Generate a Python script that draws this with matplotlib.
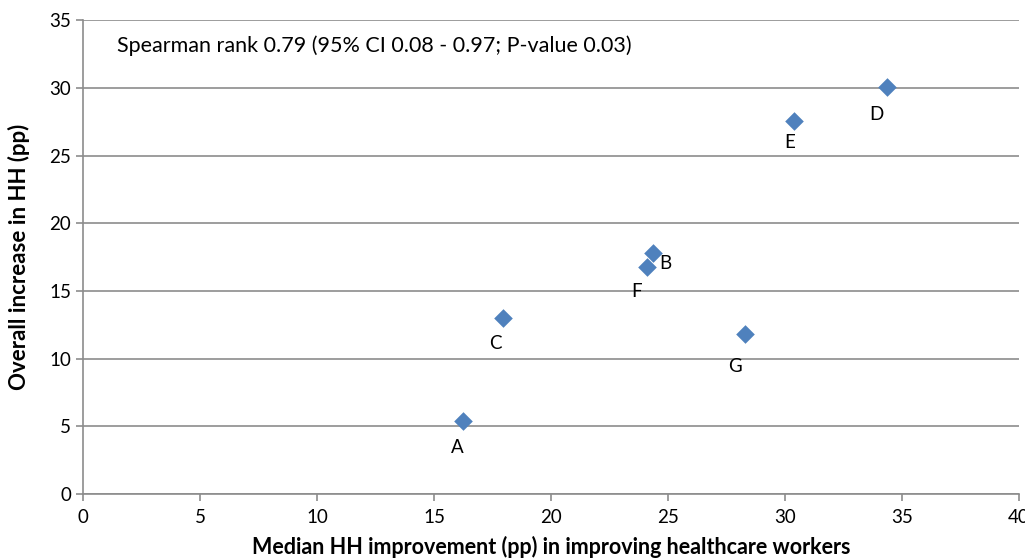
import matplotlib
matplotlib.use("Agg")
import matplotlib.pyplot as plt

# data
labels = ['A', 'B', 'C', 'D', 'E', 'F', 'G']
hcw_improvement = [16.24, 24.37, 17.96, 34.37, 30.38, 24.09, 28.29]
overall_increase = [5.39, 17.77, 12.97, 30.08, 27.57, 16.79, 11.79]

# label offsets in points (manually placed in the original)
label_offsets = {'A': (-4, -19), 'B': (9, -7), 'C': (-6, -18), 'D': (-8, -20),
                 'E': (-3, -16), 'F': (-7, -18), 'G': (-7, -23)}

plt.rcParams['font.family'] = ['Lato', 'DejaVu Sans']

fig = plt.figure(figsize=(10.25, 5.6), dpi=100)
ax = fig.add_axes([0.081, 0.118, 0.913, 0.846])

ax.scatter(hcw_improvement, overall_increase, marker='D', s=90, color='#4F81BD', zorder=3, linewidths=0)

for lab, x, y in zip(labels, hcw_improvement, overall_increase):
    ax.annotate(lab, (x, y), xytext=label_offsets[lab], textcoords='offset points',
                ha='center', va='center', fontsize=13.5, color='black')

ax.set_xlim(0, 40)
ax.set_ylim(0, 35)
ax.set_xticks(range(0, 41, 5))
ax.set_yticks(range(0, 36, 5))
ax.grid(axis='y', color='#8c8c8c', linewidth=1.2)
ax.set_axisbelow(True)

for s in ['top', 'right']:
    ax.spines[s].set_visible(False)
for s in ['left', 'bottom']:
    ax.spines[s].set_color('#8c8c8c')
    ax.spines[s].set_linewidth(1.2)
ax.tick_params(axis='both', colors='#8c8c8c', labelcolor='black', labelsize=13.5, length=5, width=1.2)
ax.tick_params(axis='x', pad=6)

ax.set_xlabel('Median HH improvement (pp) in improving healthcare workers', fontsize=15.5, fontweight='bold', labelpad=7)
ax.set_ylabel('Overall increase in HH (pp)', fontsize=16, fontweight='bold', labelpad=14)

ax.text(0.036, 0.947, 'Spearman rank 0.79 (95% CI 0.08 - 0.97; P-value 0.03)', transform=ax.transAxes,
        fontsize=15.5, va='center', ha='left')

fig.savefig('out.png', dpi=100)
